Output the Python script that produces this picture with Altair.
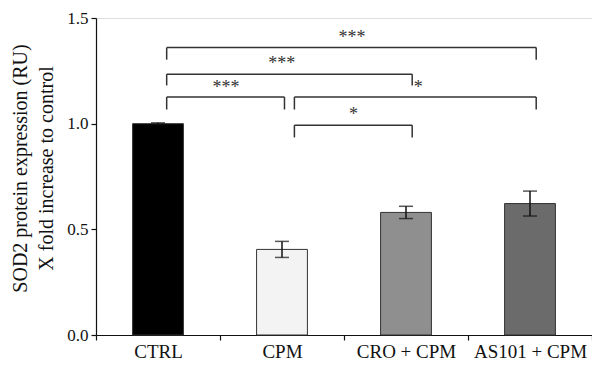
import altair as alt
import pandas as pd

# ---- data ----
categories = ["CTRL", "CPM", "CRO + CPM", "AS101 + CPM"]
means = [1.0, 0.405, 0.580, 0.622]
errors = [0.004, 0.038, 0.029, 0.059]
bar_colors = ["#000000", "#f3f3f3", "#8f8f8f", "#6b6b6b"]

# significance brackets (x in band units: category i spans i..i+1)
bracket_left = [0.57, 0.57, 0.57, 1.60, 1.60]
bracket_right = [3.55, 2.55, 1.52, 3.55, 2.55]
bracket_top = [1.360, 1.234, 1.126, 1.126, 0.993]
bracket_bottom = [1.303, 1.181, 1.067, 1.067, 0.935]

star_labels = ["***", "***", "***", "*", "*"]
star_x = [2.064, 1.498, 1.048, 2.598, 2.077]
star_y = [1.420, 1.295, 1.183, 1.181, 1.053]

# ---- tables ----
bars_df = pd.DataFrame({
    "group": categories,
    "mean": means,
    "lo": [m - e for m, e in zip(means, errors)],
    "hi": [m + e for m, e in zip(means, errors)],
})

hz_df = pd.DataFrame({"x": bracket_left, "x2": bracket_right, "y": bracket_top})
legs_df = pd.DataFrame({
    "x": bracket_left + bracket_right,
    "y": bracket_top + bracket_top,
    "y2": bracket_bottom + bracket_bottom,
})
stars_df = pd.DataFrame({"label": star_labels, "x": star_x, "y": star_y})

FONT = "Liberation Serif"
W, H = 496, 317

yscale = alt.Scale(domain=[0, 1.5], nice=False, zero=True)
xband = alt.X(
    "group:N",
    sort=categories,
    scale=alt.Scale(paddingInner=0, paddingOuter=0),
    axis=alt.Axis(
        title=None, labelAngle=0, tickBand="extent", tickSize=5,
        labelPadding=2, labelFont=FONT, labelFontSize=19, labelColor="#111",
        domainColor="#111", tickColor="#111", domainWidth=1.2, tickWidth=1.2,
    ),
)

bars = alt.Chart(bars_df).mark_bar(
    width=alt.RelativeBandSize(0.41), stroke="#333", strokeWidth=1
).encode(
    x=xband,
    y=alt.Y(
        "mean:Q", scale=yscale,
        axis=alt.Axis(
            values=[0, 0.5, 1.0, 1.5], format=".1f", grid=False,
            tickSize=5, labelPadding=3, labelFont=FONT, labelFontSize=17,
            labelColor="#111", domainColor="#111", tickColor="#111",
            domainWidth=1.2, tickWidth=1.2,
            title=["SOD2 protein expression (RU)", "X fold increase to control"],
            titleFont=FONT, titleFontSize=20, titleFontWeight="normal",
            titleColor="#111", titleLineHeight=26, titleAngle=-90,
            titleX=-86, titleY=150, titleAlign="center", titleBaseline="top",
        ),
    ),
    color=alt.Color("group:N", scale=alt.Scale(domain=categories, range=bar_colors), legend=None),
)

err = alt.Chart(bars_df).mark_rule(color="#111", strokeWidth=1.5).encode(
    x=alt.X("group:N", sort=categories), y="lo:Q", y2="hi:Q"
)
cap_lo = alt.Chart(bars_df).mark_tick(color="#111", size=14, thickness=1.5, orient="horizontal").encode(
    x=alt.X("group:N", sort=categories), y="lo:Q"
)
cap_hi = alt.Chart(bars_df).mark_tick(color="#111", size=14, thickness=1.5, orient="horizontal").encode(
    x=alt.X("group:N", sort=categories), y="hi:Q"
)

xq = alt.Scale(domain=[0, 4], nice=False, zero=False)
hz = alt.Chart(hz_df).mark_rule(color="#333", strokeWidth=1.5).encode(
    x=alt.X("x:Q", scale=xq, axis=None), x2="x2:Q", y=alt.Y("y:Q", scale=yscale)
)
legs = alt.Chart(legs_df).mark_rule(color="#333", strokeWidth=1.5).encode(
    x=alt.X("x:Q", scale=xq, axis=None), y=alt.Y("y:Q", scale=yscale), y2="y2:Q"
)
stars = alt.Chart(stars_df).mark_text(
    font=FONT, fontSize=18, color="#333", align="center", baseline="middle", dy=3
).encode(
    x=alt.X("x:Q", scale=xq, axis=None), y=alt.Y("y:Q", scale=yscale), text="label:N"
)

chart = alt.layer(
    alt.layer(bars, err, cap_lo, cap_hi),
    alt.layer(hz, legs, stars),
).resolve_scale(x="independent").properties(
    width=W, height=H,
    autosize=alt.AutoSizeParams(type="none"),
    padding={"left": 88, "top": 10, "right": 0, "bottom": 27},
).configure_view(stroke=None).configure(background="white")

chart.save("out.html", embed_options={"renderer": "svg", "actions": False})
